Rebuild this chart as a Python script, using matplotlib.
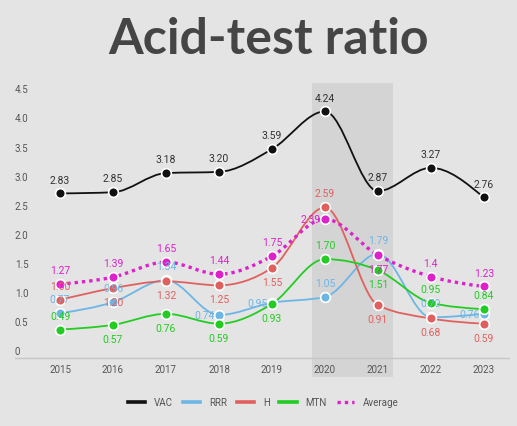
import numpy as np
import matplotlib
matplotlib.use("Agg")
import matplotlib.pyplot as plt
from matplotlib.path import Path
from matplotlib.patches import PathPatch
from matplotlib.lines import Line2D

years = [2015, 2016, 2017, 2018, 2019, 2020, 2021, 2022, 2023]
vac = [2.83, 2.85, 3.18, 3.20, 3.59, 4.24, 2.87, 3.27, 2.76]
rrr = [0.77, 0.96, 1.34, 0.74, 0.95, 1.05, 1.79, 0.70, 0.76]
h = [1.00, 1.20, 1.32, 1.25, 1.55, 2.59, 0.91, 0.68, 0.59]
mtn = [0.49, 0.57, 0.76, 0.59, 0.93, 1.70, 1.51, 0.95, 0.84]
average = [1.27, 1.39, 1.65, 1.44, 1.75, 2.39, 1.77, 1.40, 1.23]
average_labels = ["1.27", "1.39", "1.65", "1.44", "1.75", "2.39", "1.77", "1.4", "1.23"]
highlight = (2020, 2021)

# label placement per point: a = above, b = below, l = left
pos_vac = "aaaaaaaaa"
pos_rrr = "aaallaaal"
pos_h = "abbbbabbb"
pos_mtn = "abbbbabaa"
pos_avg = "aaaaalbaa"

BG = "#e4e4e4"
FONT = "Roboto"


def monotone_path(xs, ys):
    xs = np.asarray(xs, float)
    ys = np.asarray(ys, float)
    n = len(xs)
    hh = np.diff(xs)
    s = np.diff(ys) / hh
    t = np.zeros(n)
    for i in range(1, n - 1):
        p = (s[i - 1] * hh[i] + s[i] * hh[i - 1]) / (hh[i - 1] + hh[i])
        t[i] = (np.sign(s[i - 1]) + np.sign(s[i])) * min(abs(s[i - 1]), abs(s[i]), 0.5 * abs(p))
    t[0] = (3 * s[0] - t[1]) / 2
    t[-1] = (3 * s[-1] - t[-2]) / 2
    verts = [(xs[0], ys[0])]
    codes = [Path.MOVETO]
    for i in range(n - 1):
        dx = hh[i]
        verts += [(xs[i] + dx / 3, ys[i] + dx * t[i] / 3),
                  (xs[i + 1] - dx / 3, ys[i + 1] - dx * t[i + 1] / 3),
                  (xs[i + 1], ys[i + 1])]
        codes += [Path.CURVE4] * 3
    return Path(verts, codes)


fig = plt.figure(figsize=(5.17, 4.27), dpi=100, facecolor=BG)
ax = fig.add_axes([0.029, 0.1148, 0.957, 0.688], facecolor=BG)
ax.set_xlim(2014.15, 2023.49)
ax.set_ylim(-0.326, 4.725)
ax.axis("off")

ax.axvspan(highlight[0] - 0.25, highlight[1] + 0.28, color="#d4d4d4", zorder=0, lw=0)
ax.axhline(0, color="#c6c6c6", lw=1, zorder=1)

# y labels sit a bit above their value
for v in np.arange(0, 4.51, 0.5):
    txt = "0" if v == 0 else f"{v:.1f}"
    ax.annotate(txt, (0, v), xycoords=("axes fraction", "data"), xytext=(0, 5),
                textcoords="offset points", ha="left", va="center",
                fontsize=7, color="#555555", family=FONT)
for yr in years:
    ax.annotate(str(yr), (yr, 0), xytext=(0, -8), textcoords="offset points",
                ha="center", va="center", fontsize=7, color="#555555", family=FONT)

series = [
    ("VAC", vac, "#111111", "#333333", pos_vac, None),
    ("RRR", rrr, "#6cb6e6", "#6cb6e6", pos_rrr, None),
    ("H", h, "#e0605e", "#e0605e", pos_h, None),
    ("MTN", mtn, "#22cc22", "#22cc22", pos_mtn, None),
    ("Average", average, "#dd22cc", "#dd22cc", pos_avg, average_labels),
]

handles = []
for i, (name, vals, col, tcol, pos, labels) in enumerate(series):
    dotted = name == "Average"
    patch = PathPatch(monotone_path(years, vals), fill=False, edgecolor=col,
                      lw=2.4 if dotted else 1.3,
                      linestyle=(0, (1, 1.2)) if dotted else "-",
                      zorder=3 + i * 0.1)
    ax.add_patch(patch)
    ax.plot(years, vals, "o", color=col, ms=7, mec="white", mew=1.2,
            zorder=5 + i * 0.1)
    for j, (x, y) in enumerate(zip(years, vals)):
        txt = labels[j] if labels else f"{y:.2f}"
        p = pos[j]
        if p == "a":
            off, ha = (0, 10), "center"
        elif p == "b":
            off, ha = (0, -10), "center"
        else:
            off, ha = (-3, 0), "right"
        ax.annotate(txt, (x, y), xytext=off, textcoords="offset points",
                    ha=ha, va="center", fontsize=7.5, color=tcol, family=FONT,
                    zorder=7)
    handles.append(Line2D([], [], color=col, lw=2.4 if dotted else 2.6,
                          linestyle=(0, (1, 1.2)) if dotted else "-", label=name))

leg = fig.legend(handles=handles, loc="center", bbox_to_anchor=(0.509, 0.056),
                 ncol=5, frameon=False, handlelength=1.8, columnspacing=1.0,
                 handletextpad=0.9, prop={"family": FONT, "size": 7})
for t in leg.get_texts():
    t.set_color("#555555")

fig.text(0.52, 0.908, "Acid-test ratio", ha="center", va="center",
         fontsize=36, fontweight="bold", color="#454545", family="Lato")

fig.savefig("out.png", dpi=100, facecolor=BG)
